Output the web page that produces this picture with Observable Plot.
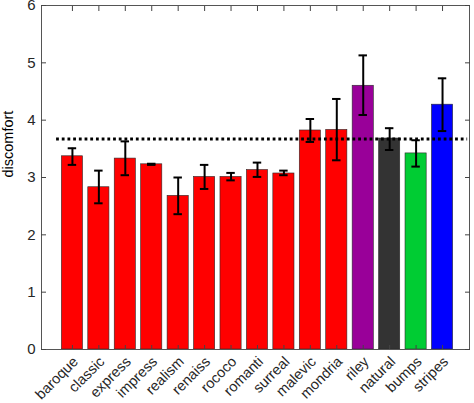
<!DOCTYPE html>
<html>
<head>
<meta charset="utf-8">
<script src="https://cdn.jsdelivr.net/npm/d3@7"></script>
<script src="https://cdn.jsdelivr.net/npm/@observablehq/plot@0.6"></script>
<style>
  body { margin: 0; background: #fff; }
  svg { font-family: "Liberation Sans", Arial, sans-serif; }
</style>
</head>
<body>
<div id="chart"></div>
<script>
const categories = ["baroque","classic","express","impress","realism","renaiss","rococo","romanti","surreal","malevic","mondria","riley","natural","bumps","stripes"];
const values  = [3.37, 2.83, 3.33, 3.23, 2.68, 3.01, 3.01, 3.13, 3.07, 3.82, 3.83, 4.60, 3.68, 3.42, 4.27];
const errLow  = [3.22, 2.55, 3.04, 3.22, 2.36, 2.80, 2.95, 3.01, 3.04, 3.62, 3.30, 4.09, 3.48, 3.19, 3.81];
const errHigh = [3.51, 3.12, 3.63, 3.24, 3.00, 3.22, 3.08, 3.26, 3.12, 4.02, 4.37, 5.13, 3.86, 3.65, 4.73];
const colors  = ["#ff0000","#ff0000","#ff0000","#ff0000","#ff0000","#ff0000","#ff0000","#ff0000","#ff0000","#ff0000","#ff0000","#990099","#333333","#00cc33","#0000ff"];
const yTicks = [0, 1, 2, 3, 4, 5, 6];
const refLevel = [3.67];
const refSpan = [0.4, 15.95];

const data = categories.map((c, k) => ({
  i: k + 1, name: c, value: values[k], lo: errLow[k], hi: errHigh[k], color: colors[k]
}));
const xTicks = data.map(d => d.i);
const barHalf = 0.4, capHalf = 0.16;

const plot = Plot.plot({
  width: 474,
  height: 403,
  marginLeft: 41,
  marginRight: 5,
  marginTop: 5,
  marginBottom: 54,
  style: {fontFamily: '"Liberation Sans", Arial, sans-serif', fontSize: "15px", color: "#262626", background: "#fff"},
  x: {type: "linear", domain: [-0.17, 16.02], axis: null},
  y: {domain: [0, 6], axis: null},
  marks: [
    Plot.rectY(data, {x1: d => d.i - barHalf, x2: d => d.i + barHalf, y: "value", fill: "color", stroke: "#2a2a2a", strokeWidth: 0.6}),
    Plot.ruleY(refLevel, {y: d => d, x1: refSpan[0], x2: refSpan[1], stroke: "#000", strokeWidth: 3, strokeDasharray: "2.8,2.9"}),
    Plot.ruleX(data, {x: "i", y1: "lo", y2: "hi", stroke: "#000", strokeWidth: 2}),
    Plot.ruleY(data, {y: "lo", x1: d => d.i - capHalf, x2: d => d.i + capHalf, stroke: "#000", strokeWidth: 2}),
    Plot.ruleY(data, {y: "hi", x1: d => d.i - capHalf, x2: d => d.i + capHalf, stroke: "#000", strokeWidth: 2}),
    Plot.frame({stroke: "#555", strokeWidth: 1}),
    Plot.axisY({anchor: "left", ticks: yTicks, tickSize: -5, tickPadding: 11, tickFormat: d => String(d), label: null, fontSize: 15, stroke: "#444"}),
    Plot.axisY({anchor: "right", ticks: yTicks, tickSize: -5, tickFormat: () => "", label: null, stroke: "#444"}),
    Plot.axisX({anchor: "bottom", ticks: xTicks, tickSize: -4, tickFormat: () => "", label: null, stroke: "#444"}),
    Plot.axisX({anchor: "top", ticks: xTicks, tickSize: -5, tickFormat: () => "", label: null, stroke: "#444"}),
    Plot.text(data, {x: "i", frameAnchor: "bottom", text: "name", rotate: -45, textAnchor: "end", dx: 6.5, dy: 13, fontSize: 14.5, fill: "#262626"}),
    Plot.text(["discomfort"], {frameAnchor: "left", dx: -33, rotate: -90, fontSize: 14.5, fill: "#000"})
  ]
});
document.getElementById("chart").appendChild(plot);
</script>
</body>
</html>
